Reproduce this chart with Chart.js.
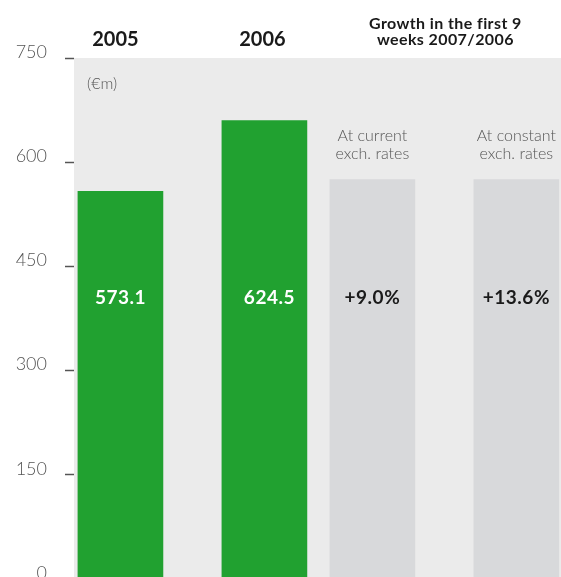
<!DOCTYPE html>
<html>
<head>
<meta charset="utf-8">
<script src="https://cdn.jsdelivr.net/npm/chart.js@4"></script>
<style>
  html, body { margin: 0; padding: 0; background: #ffffff; overflow: hidden; }
  canvas { display: block; }
</style>
</head>
<body>
<canvas id="salesChart" width="561" height="577"></canvas>
<script>
  // Datos del gráfico
  const categories = ['2005', '2006', 'At current exch. rates', 'At constant exch. rates'];
  const slots = [0, 4, 7, 11];
  const barValues = [558, 660, 575, 575];
  const valueLabels = ['573.1', '624.5', '+9.0%', '+13.6%'];
  const yTicks = [0, 150, 300, 450, 600, 750];

  // Colores
  const green = '#21a130';
  const lightGrey = '#d8d9db';
  const panel = '#ebebeb';
  const textGrey = '#555555';
  const dark = '#1a1a1a';

  const lightFont = '"Lato", "Open Sans", sans-serif';

  // Fondo gris y textos
  const decor = {
    id: 'decor',
    beforeDatasetsDraw(chart) {
      const { ctx, chartArea: a } = chart;
      ctx.save();
      ctx.fillStyle = panel;
      ctx.fillRect(a.left, a.top, a.right - a.left, chart.height - a.top);
      ctx.restore();
    },
    afterDatasetsDraw(chart) {
      const { ctx, scales } = chart;
      const xs = slots.map(s => scales.x.getPixelForValue(s));
      const yLabel = scales.y.getPixelForValue(404);
      ctx.save();
      ctx.textAlign = 'center';
      ctx.textBaseline = 'middle';

      // encabezados
      ctx.fillStyle = dark;
      ctx.font = 'bold 20px ' + lightFont;
      ctx.fillText(categories[0], xs[0] - 5, 40);
      ctx.fillText(categories[1], xs[1] - 2, 40);
      ctx.font = 'bold 16px ' + lightFont;
      ctx.letterSpacing = '0.4px';
      const gx = (xs[2] + xs[3]) / 2 + 1;
      ctx.fillText('Growth in the first 9', gx, 24);
      ctx.fillText('weeks 2007/2006', gx, 40);
      ctx.letterSpacing = '0px';

      // unidad
      ctx.fillStyle = textGrey;
      ctx.font = '300 16px ' + lightFont;
      ctx.textAlign = 'left';
      ctx.fillText('(€m)', 87, 84);
      ctx.textAlign = 'center';
      ctx.fillText('At current', xs[2], 136);
      ctx.fillText('exch. rates', xs[2], 154);
      ctx.fillText('At constant', xs[3], 136);
      ctx.fillText('exch. rates', xs[3], 154);

      // valores
      ctx.font = 'bold 19px ' + lightFont;
      ctx.letterSpacing = '0.5px';
      valueLabels.forEach((t, i) => {
        ctx.fillStyle = i < 2 ? '#ffffff' : dark;
        ctx.fillText(t, xs[i] + (i === 1 ? 5 : 0), yLabel);
      });
      ctx.restore();
    }
  };

  const ctx = document.getElementById('salesChart').getContext('2d');
  new Chart(ctx, {
    type: 'bar',
    data: {
      labels: categories,
      datasets: [{
        data: slots.map((s, i) => ({ x: s, y: barValues[i] })),
        backgroundColor: [green, green, lightGrey, lightGrey],
        borderWidth: 0,
        barThickness: 85,
        base: 0,
        clip: false
      }]
    },
    options: {
      responsive: false,
      animation: false,
      layout: { padding: { top: 58, right: 0, bottom: 0, left: 0 } },
      plugins: {
        legend: { display: false },
        tooltip: { enabled: false }
      },
      scales: {
        x: {
          type: 'linear',
          display: false,
          offset: false,
          min: -1.29,
          max: 12.24
        },
        y: {
          min: 2.9,
          max: 750,
          afterBuildTicks: (scale) => { scale.ticks = yTicks.map(v => ({ value: v })); },
          afterFit: (scale) => {
            scale.width = 74;
            scale.paddingTop = 0;
            scale.paddingBottom = 0;
          },
          border: { display: false },
          grid: {
            drawOnChartArea: false,
            drawTicks: true,
            tickLength: 9,
            tickWidth: 1.5,
            color: '#555555'
          },
          ticks: {
            padding: 18,
            labelOffset: -6,
            color: textGrey,
            font: { family: lightFont, size: 18, weight: '300' }
          }
        }
      }
    },
    plugins: [decor]
  });
</script>
</body>
</html>
